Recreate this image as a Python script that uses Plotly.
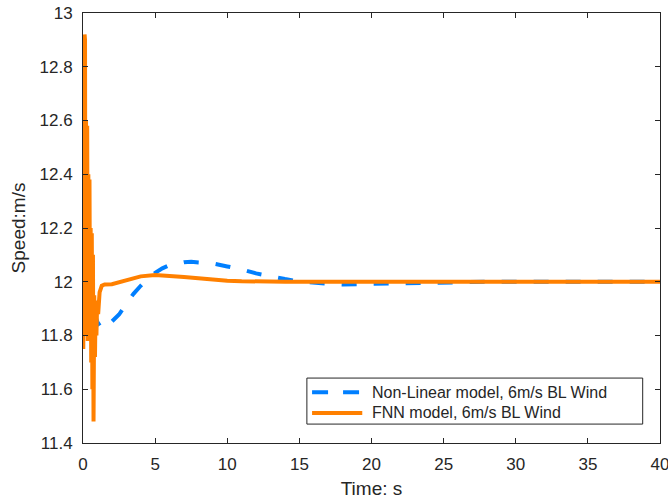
import plotly.graph_objects as go

# Non-linear model response (time in s, rotor speed in m/s)
nl_time = [0, 0.5, 1.0, 1.3, 1.6, 2.0, 2.5, 3.0, 3.5, 4.0, 4.5, 5.0, 5.5, 6.0, 6.5,
           7.0, 7.5, 8.0, 8.5, 9.0, 10, 11, 12, 13, 14, 15, 16, 17, 18, 20, 22,
           25, 28, 32, 36, 40]
nl_speed = [12.0, 11.93, 11.85, 11.825, 11.83, 11.852, 11.878, 11.918, 11.955, 11.985,
            12.012, 12.033, 12.05, 12.062, 12.069, 12.073, 12.074, 12.073, 12.071,
            12.068, 12.057, 12.046, 12.031, 12.019, 12.01, 12.001, 11.995, 11.992,
            11.99, 11.992, 11.995, 11.998, 12.0, 12.0, 12.0, 12.0]

# FNN model response
fnn_time = [0.00, 0.02, 0.05, 0.08, 0.11, 0.14, 0.17, 0.21, 0.25, 0.29, 0.33, 0.37,
            0.41, 0.45, 0.49, 0.53, 0.57, 0.61, 0.65, 0.69, 0.73, 0.78, 0.83, 0.88,
            0.93, 0.98, 1.05, 1.15, 1.3, 1.5, 2.0, 2.5, 3.0, 3.5, 4.0, 5.0, 6.0,
            7.0, 8.0, 9.0, 10.0, 11.0, 12.0, 14.0, 20.0, 30.0, 40.0]
fnn_speed = [11.98, 11.75, 12.70, 11.80, 12.92, 12.90, 11.85, 12.60, 11.90, 12.58,
             11.78, 12.40, 11.95, 12.38, 11.80, 12.20, 11.70, 12.18, 11.60, 12.10,
             11.48, 11.95, 11.72, 11.93, 11.80, 11.92, 11.88, 11.96, 11.985, 11.99,
             11.991, 11.998, 12.007, 12.015, 12.02, 12.025, 12.023, 12.018, 12.013,
             12.008, 12.004, 12.002, 12.001, 12.0, 12.0, 12.0, 12.0]

x_ticks = [0, 5, 10, 15, 20, 25, 30, 35, 40]
y_ticks = [11.4, 11.6, 11.8, 12, 12.2, 12.4, 12.6, 12.8, 13]

series_names = ["Non-Linear model, 6m/s BL Wind", "FNN model, 6m/s BL Wind"]

BLUE = "rgb(0,127,255)"
ORANGE = "rgb(255,128,0)"
AXIS = "#262626"
FONT = "Liberation Sans, Arial, sans-serif"
DASH = "15px,17px"

fig = go.Figure()
fig.add_trace(go.Scatter(
    x=nl_time, y=nl_speed, mode="lines", name=series_names[0],
    line=dict(color=BLUE, width=4, dash=DASH),
))
fig.add_trace(go.Scatter(
    x=fnn_time, y=fnn_speed, mode="lines", name=series_names[1],
    line=dict(color=ORANGE, width=4),
))

axis_common = dict(
    showgrid=False, zeroline=False, showline=True, linecolor=AXIS, linewidth=1,
    mirror="ticks", ticks="inside", ticklen=5, tickcolor=AXIS,
    tickfont=dict(family=FONT, size=17, color=AXIS),
    ticklabelstandoff=6, ticklabeloverflow="allow", automargin=False,
)

# Legend box drawn in paper coordinates (lower right of the axes)
box_x0, box_x1 = 0.388, 0.970
box_y0, box_y1 = 0.044, 0.151
row_y = [0.118, 0.070]
line_x0, line_x1, text_x = 0.397, 0.484, 0.497

shapes = [dict(type="rect", xref="paper", yref="paper",
               x0=box_x0, x1=box_x1, y0=box_y0, y1=box_y1,
               fillcolor="white", line=dict(color=AXIS, width=1), layer="above")]
shapes.append(dict(type="line", xref="paper", yref="paper",
                   x0=line_x0, x1=line_x1, y0=row_y[0], y1=row_y[0],
                   line=dict(color=BLUE, width=4, dash="16px,15px"), layer="above"))
shapes.append(dict(type="line", xref="paper", yref="paper",
                   x0=line_x0, x1=line_x1, y0=row_y[1], y1=row_y[1],
                   line=dict(color=ORANGE, width=4), layer="above"))
annotations = [
    dict(x=text_x, y=ry, xref="paper", yref="paper", text=name, showarrow=False,
         xanchor="left", yanchor="middle", font=dict(family=FONT, size=16, color=AXIS))
    for name, ry in zip(series_names, row_y)
]

fig.update_layout(
    width=668, height=499,
    margin=dict(l=83, r=8, t=13, b=56),
    paper_bgcolor="white", plot_bgcolor="white",
    font=dict(family=FONT, color=AXIS),
    showlegend=False,
    shapes=shapes,
    annotations=annotations,
    xaxis=dict(
        range=[0, 40], tickvals=x_ticks, ticktext=[str(v) for v in x_ticks],
        title=dict(text="Time: s", font=dict(family=FONT, size=19, color=AXIS), standoff=9),
        **axis_common,
    ),
    yaxis=dict(
        range=[11.4, 13], tickvals=y_ticks,
        ticktext=[("%g" % v) for v in y_ticks],
        title=dict(text="Speed:m/s", font=dict(family=FONT, size=19, color=AXIS), standoff=8),
        **axis_common,
    ),
)

fig.write_html("out.html")
